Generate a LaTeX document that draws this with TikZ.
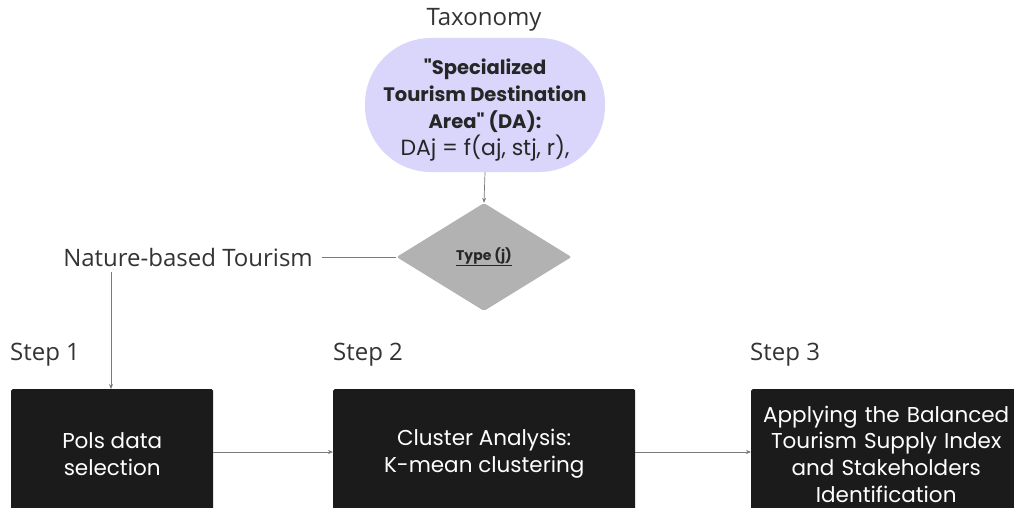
\documentclass[tikz,border=0pt]{standalone}
\usepackage{fontspec}
\setmainfont{Open Sans}
\newfontfamily\boxfont{Poppins}
\newfontfamily\boldfont{Poppins}[UprightFont=* Bold]
\usetikzlibrary{shapes.geometric,arrows.meta}
\definecolor{lavender}{HTML}{DAD5FA}
\definecolor{diamondgray}{HTML}{B2B2B2}
\definecolor{stepblack}{HTML}{1B1B1B}
\definecolor{linegray}{HTML}{7A7A7A}
\tikzset{
	label text/.style={font=\fontsize{24}{28}\selectfont, text=black!80, inner sep=0pt},
	stepbox/.style={fill=stepblack, text=white, align=center, minimum height=130pt, anchor=north west,
		font=\boxfont\fontsize{21.5}{27}\selectfont, rounded corners=1.5pt, inner sep=2pt},
	link/.style={draw=linegray, line width=0.7pt},
	arrowlink/.style={link, -{Stealth[length=5pt, width=4pt]}},
}
\begin{document}
	\begin{tikzpicture}[x=1pt, y=-1pt]
		\useasboundingbox (0,0) rectangle (1014,508);
		\clip (0,0) rectangle (1014,508);
		
		\node[label text] (taxonomy) at (484, 20) {Taxonomy};
		\node[fill=lavender, rounded corners=66pt, minimum width=240pt, minimum height=134pt, inner sep=0pt] (da) at (485, 105) {};
		\node[align=center, font=\boxfont\fontsize{22}{27}\selectfont, text=black!85] (datext) at (485, 110)
			{{\boldfont\fontsize{19.5}{27}\selectfont "Specialized}\\{\boldfont\fontsize{19.5}{27}\selectfont Tourism Destination}\\{\boldfont\fontsize{19.5}{27}\selectfont Area" (DA):}\\DAj = f(aj, stj, r),};
		\node[diamond, fill=diamondgray, minimum width=175pt, minimum height=108pt, rounded corners=2pt,
			font=\boldfont\fontsize{14}{16}\selectfont, text=black!85] (type) at (484, 257) {\underline{Type (j)}};
		\node[label text, anchor=east] (nature) at (313, 257) {Nature-based Tourism};
		\coordinate (natdrop) at (111, 272);
		
		\node[label text, anchor=west] (step1) at (10, 355) {Step 1};
		\node[label text, anchor=west] (step2) at (333, 355) {Step 2};
		\node[label text, anchor=west] (step3) at (750, 355) {Step 3};
		
		\node[stepbox, minimum width=202pt] (pois) at (11, 389) {Pols data\\selection};
		\node[stepbox, minimum width=302pt] (cluster) at (333, 389) {Cluster Analysis:\\K-mean clustering};
		\node[stepbox, minimum width=270pt, text width=262pt, font=\boxfont\fontsize{21.5}{26.7}\selectfont] (index) at (751, 389)
			{Applying the Balanced\\Tourism Supply Index\\and Stakeholders\\Identification};
		
		\draw[arrowlink] (da.south) -- (type.north);
		\draw[link] (type.west) -- ([xshift=9pt]nature.east);
		\draw[arrowlink] (natdrop) -- (natdrop |- pois.north);
		\draw[arrowlink] (pois.east |- 0,452) -- (cluster.west |- 0,452);
		\draw[arrowlink] (cluster.east |- 0,452) -- (index.west |- 0,452);
	\end{tikzpicture}
\end{document}
